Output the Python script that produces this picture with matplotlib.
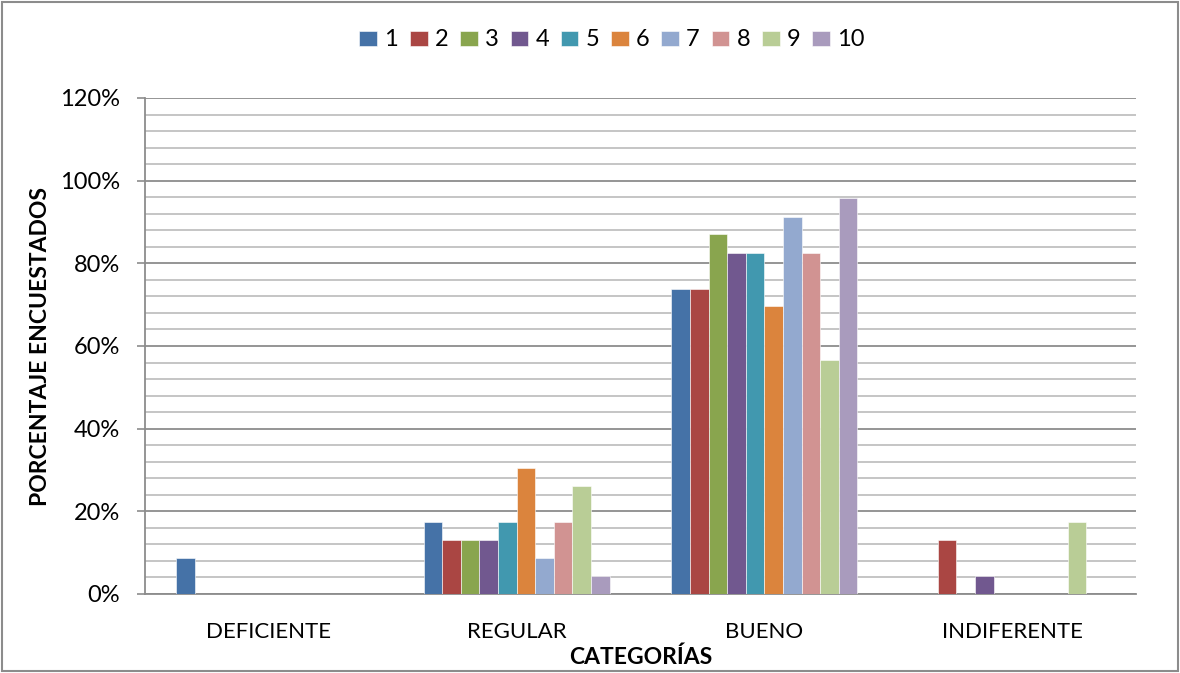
import matplotlib.pyplot as plt
import numpy as np
from matplotlib.patches import Rectangle
from matplotlib.ticker import MultipleLocator, PercentFormatter

plt.rcParams['font.family'] = ['Lato', 'DejaVu Sans']

categorias = ["DEFICIENTE", "REGULAR", "BUENO", "INDIFERENTE"]
series = ["1", "2", "3", "4", "5", "6", "7", "8", "9", "10"]
colores = ["#4572A7", "#AA4643", "#89A54E", "#71588F", "#4198AF",
           "#DB843D", "#93A9CF", "#D19392", "#B9CD96", "#A99BBD"]

# porcentaje por serie: DEFICIENTE, REGULAR, BUENO, INDIFERENTE
s1 = [8.7, 17.4, 73.9, 0]
s2 = [0, 13.0, 73.9, 13.0]
s3 = [0, 13.0, 87.0, 0]
s4 = [0, 13.0, 82.6, 4.3]
s5 = [0, 17.4, 82.6, 0]
s6 = [0, 30.4, 69.6, 0]
s7 = [0, 8.7, 91.3, 0]
s8 = [0, 17.4, 82.6, 0]
s9 = [0, 26.1, 56.5, 17.4]
s10 = [0, 4.3, 95.7, 0]
valores = [s1, s2, s3, s4, s5, s6, s7, s8, s9, s10]

fig = plt.figure(figsize=(11.8, 6.73), dpi=100)
ax = fig.add_axes([145 / 1180, 1 - 594 / 673, 991 / 1180, 496 / 673])

x = np.arange(len(categorias))
n = len(series)
w = 0.75 / n
for i, (nombre, vals, c) in enumerate(zip(series, valores, colores)):
    pos = x - 0.375 + w * (i + 0.5)
    ax.bar(pos, vals, width=w, color=c, label=nombre, zorder=3,
           edgecolor="white", linewidth=0.4)

ax.set_xlim(-0.5, 3.5)
ax.set_ylim(0, 120)
ax.yaxis.set_major_locator(MultipleLocator(20))
ax.yaxis.set_minor_locator(MultipleLocator(4))
ax.yaxis.set_major_formatter(PercentFormatter(decimals=0))
ax.grid(axis="y", which="major", color="#8c8c8c", linewidth=1.3, zorder=0)
ax.grid(axis="y", which="minor", color="#c0c0c0", linewidth=1.3, zorder=0)
ax.tick_params(axis="y", which="major", length=6, width=1.2, color="#8c8c8c",
               labelsize=17, pad=12)
ax.tick_params(axis="y", which="minor", length=0)
ax.tick_params(axis="x", length=0, labelsize=16, pad=20)
ax.set_xticks(x)
ax.set_xticklabels(categorias)

for s in ["top", "right"]:
    ax.spines[s].set_visible(False)
for s in ["left", "bottom"]:
    ax.spines[s].set_color("#8c8c8c")
    ax.spines[s].set_linewidth(1.3)

ax.set_ylabel("PORCENTAJE ENCUESTADOS", fontsize=16.5, fontweight="bold")
ax.yaxis.set_label_coords(-0.095, 0.5)
ax.set_xlabel("CATEGORÍAS", fontsize=16.5, fontweight="bold")
ax.xaxis.set_label_coords(0.5, -0.105)

ax.legend(loc="center", bbox_to_anchor=(612 / 1180, 1 - 40 / 673),
          bbox_transform=fig.transFigure, ncol=10, frameon=False,
          fontsize=17, handlelength=0.75, handleheight=0.62,
          handletextpad=0.3, columnspacing=0.5)

fig.patches.append(Rectangle((2 / 1180, 2 / 673), 1176 / 1180, 669 / 673,
                             transform=fig.transFigure, fill=False,
                             edgecolor="#8c8c8c", linewidth=1.5))

fig.savefig("out.png", dpi=100)
